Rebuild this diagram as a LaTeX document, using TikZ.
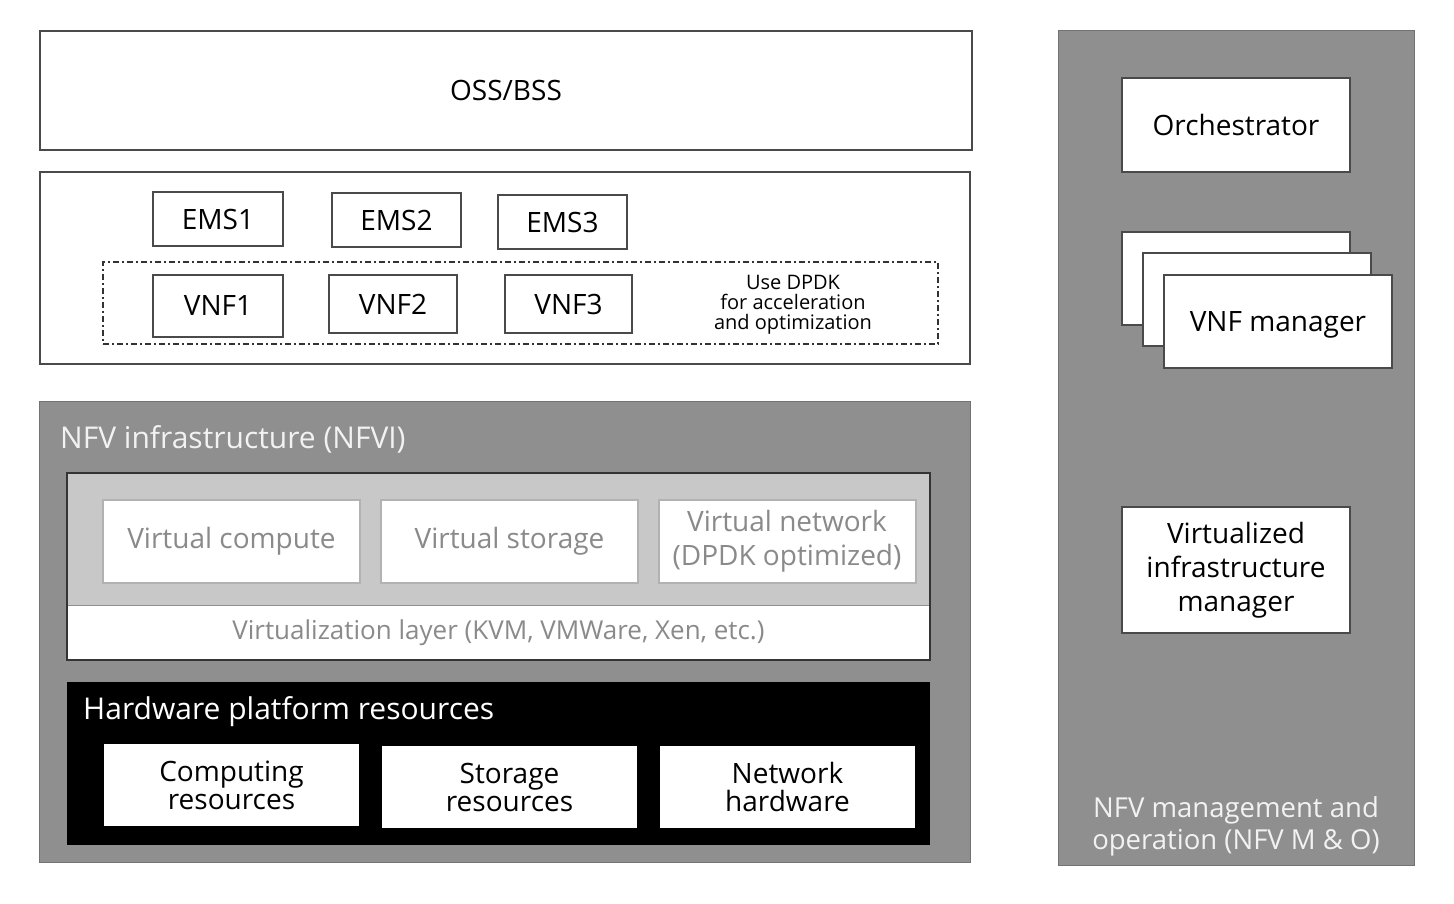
\documentclass[tikz,border=0pt]{standalone}
\usepackage{fontspec}
\setmainfont{Open Sans}
\usetikzlibrary{positioning}

\definecolor{panelgray}{HTML}{8F8F8F}
\definecolor{lightgray}{HTML}{C8C8C8}
\definecolor{boxline}{HTML}{4A4A4A}
\definecolor{softtext}{HTML}{8A8A8A}
\definecolor{paletext}{HTML}{F2F2F2}

\tikzset{
	box/.style={shape=rectangle, draw=boxline, line width=2pt, fill=white, inner sep=0pt, align=center, font=\fontsize{28}{34}\selectfont},
	virtbox/.style={box, draw=lightgray!70!gray, text=softtext},
	hwbox/.style={box, draw=none, font=\fontsize{28}{28}\selectfont},
	panel/.style={shape=rectangle, fill=panelgray, draw=panelgray!80!black, line width=1pt, inner sep=0pt},
	title/.style={text=paletext, inner sep=0pt, font=\fontsize{30}{34}\selectfont}
}

\begin{document}
\begin{tikzpicture}[x=1pt, y=-1pt]
	\useasboundingbox (0,0) rectangle (1454,904);

	% top layers
	\node[box, minimum width=932pt, minimum height=119pt] (oss) at (506,90.5) {OSS/BSS};
	\node[box, minimum width=930pt, minimum height=192pt] (vnflayer) at (505,268) {};
	\node[box, minimum width=130pt, minimum height=54pt] (ems1) at (218,219)   {EMS1};
	\node[box, minimum width=129pt, minimum height=54pt] (ems2) at (396.5,220) {EMS2};
	\node[box, minimum width=129pt, minimum height=54pt] (ems3) at (562.5,222) {EMS3};
	\node[shape=rectangle, draw=black!80, line width=2pt, dash pattern=on 6pt off 3pt on 2pt off 3pt,
		minimum width=835pt, minimum height=82pt] (dpdk) at (520.5,303) {};
	\node[box, minimum width=130pt, minimum height=62pt] (vnf1) at (218,306)   {VNF1};
	\node[box, minimum width=128pt, minimum height=58pt] (vnf2) at (393,304)   {VNF2};
	\node[box, minimum width=127pt, minimum height=58pt] (vnf3) at (568.5,304) {VNF3};
	\node[align=center, font=\fontsize{20}{20}\selectfont] (dpdktext) at (793,305)
		{Use DPDK\\for acceleration\\and optimization};

	% NFV infrastructure
	\node[panel, minimum width=931pt, minimum height=461pt] (nfvi) at (504.5,631.5) {};
	\node[title, anchor=west] (nfvititle) at (60,439) {NFV infrastructure (NFVI)};
	\node[shape=rectangle, fill=lightgray, inner sep=0pt, minimum width=863pt, minimum height=132pt] (virt) at (498.5,539) {};
	\node[shape=rectangle, fill=white, inner sep=0pt, minimum width=863pt, minimum height=54pt, text=softtext,
		font=\fontsize{26}{30}\selectfont] (vlayer) at (498.5,633) {Virtualization layer (KVM, VMWare, Xen, etc.)};
	\draw[draw=boxline!70!black, line width=2.5pt] (virt.north west) rectangle (vlayer.south east);
	\node[virtbox, minimum width=257pt, minimum height=83pt] (vcompute) at (231.5,541.5) {Virtual compute};
	\node[virtbox, minimum width=257pt, minimum height=83pt] (vstorage) at (509.5,541.5) {Virtual storage};
	\node[virtbox, minimum width=257pt, minimum height=83pt] (vnetwork) at (787,541.5) {Virtual network\\(DPDK optimized)};

	% hardware
	\node[shape=rectangle, fill=black, inner sep=0pt, minimum width=863pt, minimum height=163pt] (hw) at (498.5,763.5) {};
	\node[title, text=white, anchor=west] (hwtitle) at (83,712) {Hardware platform resources};
	\node[hwbox, minimum width=255pt, minimum height=82pt] (compute) at (231.5,785) {Computing\\resources};
	\node[hwbox, minimum width=255pt, minimum height=82pt] (storage) at (509.5,787) {Storage\\resources};
	\node[hwbox, minimum width=255pt, minimum height=82pt] (network) at (787.5,787) {Network\\hardware};

	% management and orchestration
	\node[panel, minimum width=356pt, minimum height=834pt] (mano) at (1236,448) {};
	\node[box, minimum width=228pt, minimum height=94pt] (orch) at (1236,125) {Orchestrator};
	\node[box, minimum width=228pt, minimum height=93pt] (vnfm3) at (1236,278.5) {};
	\node[box, minimum width=228pt, minimum height=93pt] (vnfm2) at (1257,299.5) {};
	\node[box, minimum width=228pt, minimum height=93pt, text depth=0pt] (vnfm1) at (1278,321.5) {VNF manager};
	\node[box, minimum width=228pt, minimum height=126pt] (vim) at (1236,570) {Virtualized\\infrastructure\\manager};
	\node[title, align=center, font=\fontsize{27.5}{32}\selectfont] (manotitle) at (1236,826)
		{NFV management and\\operation (NFV M \& O)};
\end{tikzpicture}
\end{document}
